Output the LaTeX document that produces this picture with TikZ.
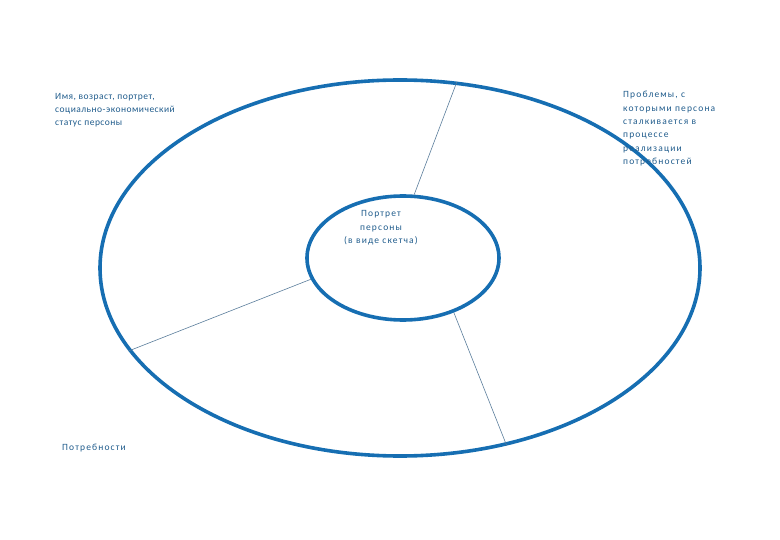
\documentclass[tikz,border=0pt]{standalone}
\usepackage{fontspec}
\setmainfont{Carlito}
\usetikzlibrary{shapes.geometric}
\definecolor{ringblue}{RGB}{22,110,178}
\definecolor{txtblue}{RGB}{32,92,140}
\definecolor{spoke}{RGB}{90,125,155}
\begin{document}
\begin{tikzpicture}[x=1pt,y=-1pt]
    \tikzset{ring/.style={ellipse, draw=ringblue, line width=3.6pt, inner sep=0pt},
        lbl/.style={text=txtblue, font=\fontsize{9.5}{13.4}\selectfont\addfontfeature{LetterSpace=12}, inner sep=0pt, align=left},
        lbltight/.style={lbl, font=\fontsize{9.5}{13.2}\selectfont\addfontfeature{LetterSpace=5}}}
    \useasboundingbox (0,0) rectangle (780,540);
    \node [ring, minimum width=600pt, minimum height=376pt] (outer) at (400,268) {};
    \node [ring, minimum width=192pt, minimum height=124pt] (inner) at (403,258) {};
    \draw [spoke, line width=0.6pt] (inner.80) -- (outer.73.9);
    \draw [spoke, line width=0.6pt] (inner.193.6) -- (outer.197.2);
    \draw [spoke, line width=0.6pt] (inner.313.3) -- (outer.301.3);
    \node [lbltight, anchor=north west] (name) at (55,93) {Имя, возраст, портрет,\\социально-экономический\\статус персоны};
    \node [lbl, anchor=north west] (probl) at (623,91) {Проблемы, с\\которыми персона\\сталкивается в\\процессе\\реализации\\потребностей};
    \node [lbl, align=center] (sketch) at (381,228) {Портрет\\персоны\\(в виде скетча)};
    \node [lbl, anchor=west] (needs) at (62,448) {Потребности};
\end{tikzpicture}
\end{document}
